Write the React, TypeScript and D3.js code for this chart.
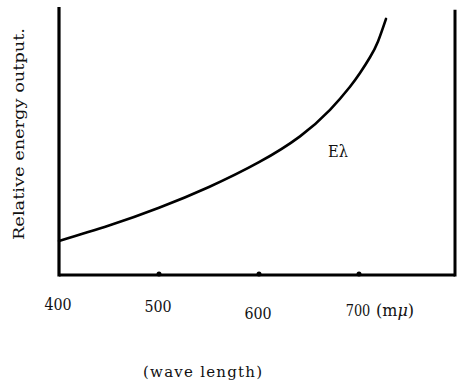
import React from "react";
import * as d3 from "d3";

const wavelengths = [400, 450, 500, 550, 600, 641, 671, 691, 701, 711, 719, 727];
const energy = [12.7, 18.45, 25.1, 32.85, 42.1, 51.74, 61.64, 70.24, 75.34, 81.24, 87.16, 95.56];
const tickValues = [400, 500, 600, 700];
const tickLabels = ["400", "500", "600", "700"];
const tickLabelBaseline = [310, 312, 319, 316];

export default function App() {
  const W = 457, H = 386;
  const x = d3.scaleLinear().domain([400, 796]).range([59, 455]);
  const y = d3.scaleLinear().domain([0, 100]).range([275, 7]);
  const pts = wavelengths.map((w, i) => [x(w), y(energy[i])] as [number, number]);
  const line = d3.line().curve(d3.curveNatural)(pts) || "";
  const font = "'DejaVu Serif', serif";
  return (
    <svg width={W} height={H} style={{ position: "absolute", left: 0, top: 0, background: "#fff" }}>
      <line x1={x(400)} y1={y(100)} x2={x(400)} y2={y(0) + 1.5} stroke="#000" strokeWidth={3.2} />
      <line x1={x(796)} y1={y(99)} x2={x(796)} y2={y(0) + 1.5} stroke="#000" strokeWidth={3} />
      <line x1={x(400)} y1={y(0)} x2={x(796)} y2={y(0)} stroke="#000" strokeWidth={3} />
      {tickValues.slice(1).map((t) => (
        <circle key={t} cx={x(t)} cy={y(0) - 1} r={2.5} fill="#000" />
      ))}
      <path d={line} fill="none" stroke="#000" strokeWidth={2.6} strokeLinecap="round" />
      <g fontFamily={font} fill="#111">
        {tickValues.map((t, i) => (
          <text key={t} transform={`translate(${x(t) - 1},${tickLabelBaseline[i]}) scale(${i === 3 ? 0.76 : 0.84},1)`} textAnchor="middle" fontSize={17}>
            {tickLabels[i]}
          </text>
        ))}
        <text x={376} y={316} fontSize={16}>(m<tspan fontStyle="italic">μ</tspan>)</text>
        <text x={328} y={157} fontSize={16} textLength={20} lengthAdjust="spacingAndGlyphs">Eλ</text>
        <text x={143} y={377} fontSize={15} textLength={119}>(wave length)</text>
        <text transform="translate(23.5,240) rotate(-90)" x={0} y={0} fontSize={14} textLength={212} lengthAdjust="spacingAndGlyphs">
          Relative energy output.
        </text>
      </g>
    </svg>
  );
}
